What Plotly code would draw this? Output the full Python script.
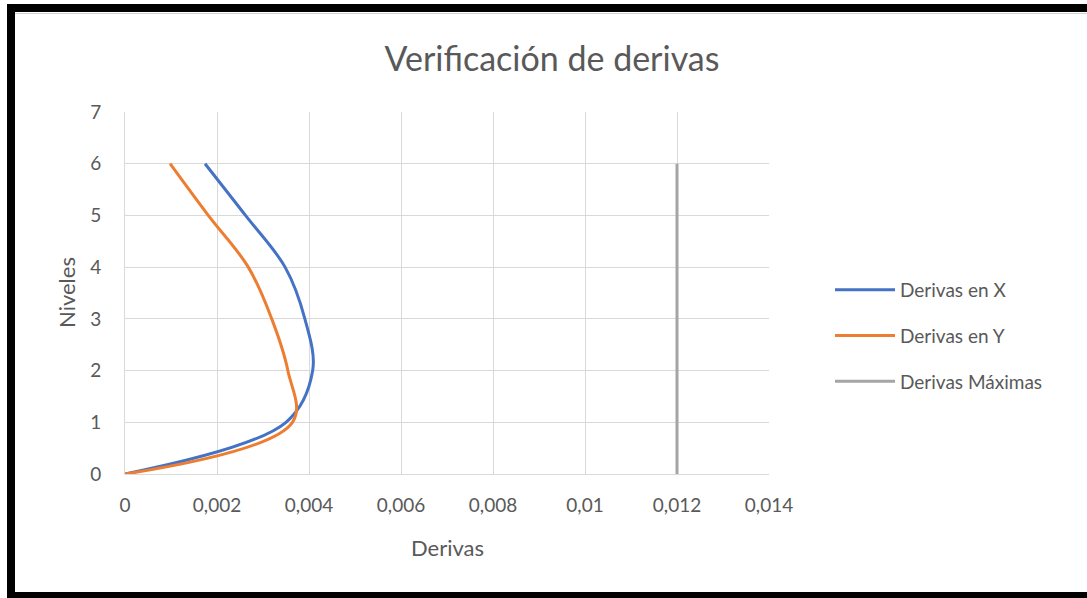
import plotly.graph_objects as go

# Data
niveles = [0, 1, 2, 3, 4, 5, 6]
derivas_x = [0, 0.0035, 0.00408, 0.00391, 0.00348, 0.00262, 0.00174]
derivas_y = [0, 0.00364, 0.00354, 0.00319, 0.00268, 0.00181, 0.00098]
deriva_max = [0.012, 0.012]
niveles_max = [0, 6]

x_ticks = [0, 0.002, 0.004, 0.006, 0.008, 0.01, 0.012, 0.014]
x_ticklabels = ["0", "0,002", "0,004", "0,006", "0,008", "0,01", "0,012", "0,014"]
y_ticks = [0, 1, 2, 3, 4, 5, 6, 7]

FONT = "Lato"
TXT = "#595959"
GRID = "#D9D9D9"

W, H = 1087, 598
L, R, T, B = 125, 769, 112, 474  # plot area pixels

def px(x):
    return (x - L) / (R - L)

def py(y):
    return (B - y) / (B - T)

fig = go.Figure()
fig.add_trace(go.Scatter(x=derivas_x, y=niveles, mode="lines", name="Derivas en X",
                         line=dict(color="#4472C4", width=3, shape="spline", smoothing=1.0),
                         legendgroup="a"))
fig.add_trace(go.Scatter(x=derivas_y, y=niveles, mode="lines", name="Derivas en Y",
                         line=dict(color="#ED7D31", width=3, shape="spline", smoothing=1.05),
                         legendgroup="b"))
fig.add_trace(go.Scatter(x=deriva_max, y=niveles_max, mode="lines", name="Derivas Máximas",
                         line=dict(color="#A5A5A5", width=3),
                         legendgroup="c"))

shapes = []
# black frame (decoration)
for x0, x1, y0, y1 in [(7, W + 5, 4, 12), (7, 15, 4, H + 5), (7, W + 5, 592, H + 5)]:
    shapes.append(dict(type="rect", xref="paper", yref="paper",
                       x0=px(x0), x1=px(x1), y0=py(y0), y1=py(y1),
                       fillcolor="black", line=dict(width=0), layer="above"))
shapes.append(dict(type="line", xref="paper", yref="paper",
                   x0=px(15), x1=px(W + 5), y0=py(13.5), y1=py(13.5),
                   line=dict(color="#D0D0D0", width=1)))

fig.update_layout(
    width=W, height=H, autosize=False,
    margin=dict(l=L, r=W - R, t=T, b=H - B, pad=0),
    paper_bgcolor="white", plot_bgcolor="white",
    font=dict(family=FONT, color=TXT, size=19),
    title=dict(text="Verificación de derivas", x=552 / W, xref="container", xanchor="center",
               y=1 - 59 / H, yref="container", yanchor="middle",
               font=dict(family=FONT, size=34, color=TXT)),
    xaxis=dict(range=[0, 0.014], tickvals=x_ticks, ticktext=x_ticklabels,
               showgrid=True, gridcolor=GRID, gridwidth=1, zeroline=False,
               showline=True, linecolor=GRID, linewidth=1, mirror=False,
               ticks="outside", ticklen=14, tickcolor="rgba(0,0,0,0)",
               tickfont=dict(family=FONT, size=19, color=TXT), fixedrange=True),
    yaxis=dict(range=[0, 7], tickvals=y_ticks,
               showgrid=True, gridcolor=GRID, gridwidth=1, zeroline=False,
               showline=True, linecolor=GRID, linewidth=1,
               ticks="outside", ticklen=19, tickcolor="rgba(0,0,0,0)",
               tickfont=dict(family=FONT, size=19, color=TXT), fixedrange=True),
    legend=dict(x=px(830), xanchor="left", y=py(336), yanchor="middle",
                font=dict(family=FONT, size=19, color=TXT),
                tracegroupgap=18, itemwidth=60, bgcolor="rgba(0,0,0,0)"),
    annotations=[
        dict(text="Niveles", xref="paper", yref="paper", x=px(66), y=py(293),
             textangle=-90, showarrow=False, xanchor="center", yanchor="middle",
             font=dict(family=FONT, size=22, color=TXT)),
        dict(text="Derivas", xref="paper", yref="paper", x=px(447), y=py(547),
             showarrow=False, xanchor="center", yanchor="middle",
             font=dict(family=FONT, size=22, color=TXT)),
    ],
    shapes=shapes,
)

fig.write_html("out.html", config={"displayModeBar": False},
               post_script="document.body.style.margin='0';document.body.style.overflow='hidden';")
